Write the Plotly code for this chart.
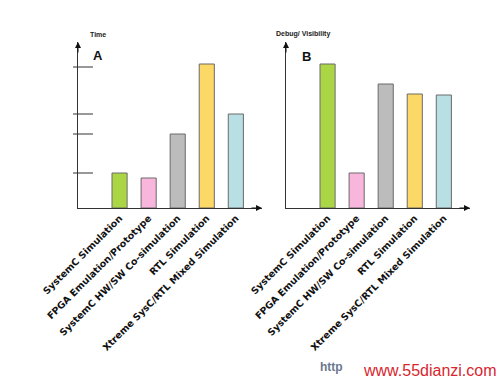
import plotly.graph_objects as go

categories = ["SystemC Simulation", "FPGA Emulation/Prototype", "SystemC HW/SW Co-simulation",
              "RTL Simulation", "Xtreme SysC/RTL Mixed Simulation"]
time_values = [35, 30, 74, 144, 94]
time_ticks = [35, 74, 94, 141]
debug_values = [144, 35, 124, 114, 113]
bar_colors = ["#aad646", "#f8b6dc", "#bcbcbc", "#fcd867", "#b8dfe3"]

W, H = 500, 381
def px(x): return x / W
def py(y): return 1 - y / H

y_dom = [py(208), py(42)]
x_range = [-1.43, 4.9]
y_range = [0, 166]

fig = go.Figure()
fig.add_trace(go.Bar(x=categories, y=time_values, marker=dict(color=bar_colors, line=dict(color="#6a6a6a", width=1)),
                     width=0.52, xaxis="x", yaxis="y", showlegend=False, hoverinfo="x+y"))
fig.add_trace(go.Bar(x=categories, y=debug_values, marker=dict(color=bar_colors, line=dict(color="#6a6a6a", width=1)),
                     width=0.52, xaxis="x2", yaxis="y2", showlegend=False, hoverinfo="x+y"))

tickfont = dict(family="DejaVu Sans", size=9.5, color="#111111", weight="bold")
common_x = dict(type="category", range=x_range, showline=True, linecolor="#333333", linewidth=1,
                showgrid=False, zeroline=False, ticks="", tickangle=-45, tickfont=tickfont, fixedrange=True,
                automargin=False)
common_y = dict(range=y_range, showline=True, linecolor="#333333", linewidth=1, showgrid=False,
                zeroline=False, showticklabels=False, ticks="", domain=y_dom, fixedrange=True,
                automargin=False)

fig.update_layout(
    width=W, height=H, margin=dict(l=0, r=0, t=0, b=0, autoexpand=False),
    paper_bgcolor="white", plot_bgcolor="white",
    xaxis=dict(domain=[px(78), px(262)], anchor="y", **common_x),
    yaxis=dict(anchor="x", **common_y),
    xaxis2=dict(domain=[px(286), px(470)], anchor="y2", **common_x),
    yaxis2=dict(anchor="x2", **common_y),
    bargap=0.48,
)

# tick marks on panel A's value axis
for t in time_ticks:
    fig.add_shape(type="line", xref="x domain", yref="y", x0=-5/184, x1=15/184, y0=t, y1=t,
                  line=dict(color="#333333", width=1))

# axis arrows
for xr, yr in [("x domain", "y domain"), ("x2 domain", "y2 domain")]:
    fig.add_annotation(xref=xr, yref=yr, x=0, y=1, ax=0, ay=12, axref="pixel", ayref="pixel",
                       showarrow=True, arrowhead=2, arrowsize=1.2, arrowwidth=1, arrowcolor="#111111", text="")
    fig.add_annotation(xref=xr, yref=yr, x=1, y=0, ax=-12, ay=0, axref="pixel", ayref="pixel",
                       showarrow=True, arrowhead=2, arrowsize=1.2, arrowwidth=1, arrowcolor="#111111", text="")

def txt(x, y, s, font):
    fig.add_annotation(xref="paper", yref="paper", x=px(x), y=py(y), text=s, showarrow=False,
                       xanchor="center", yanchor="middle", font=font)

lab = dict(family="Liberation Sans", size=7, color="#222222", weight="bold")
txt(97.5, 34, "Time", lab)
txt(303, 34, "Debug/ Visibility", lab)
big = dict(family="Liberation Sans", size=13, color="#111111", weight="bold")
txt(98, 55, "A", big)
txt(306, 56, "B", big)

# watermark
txt(331, 367, "http", dict(family="Liberation Sans", size=12, color="#6a7890", weight="bold"))
txt(430, 370, "www.55dianzi.com", dict(family="Liberation Sans", size=16, color="#d8262e"))

fig.write_html("out.html")
